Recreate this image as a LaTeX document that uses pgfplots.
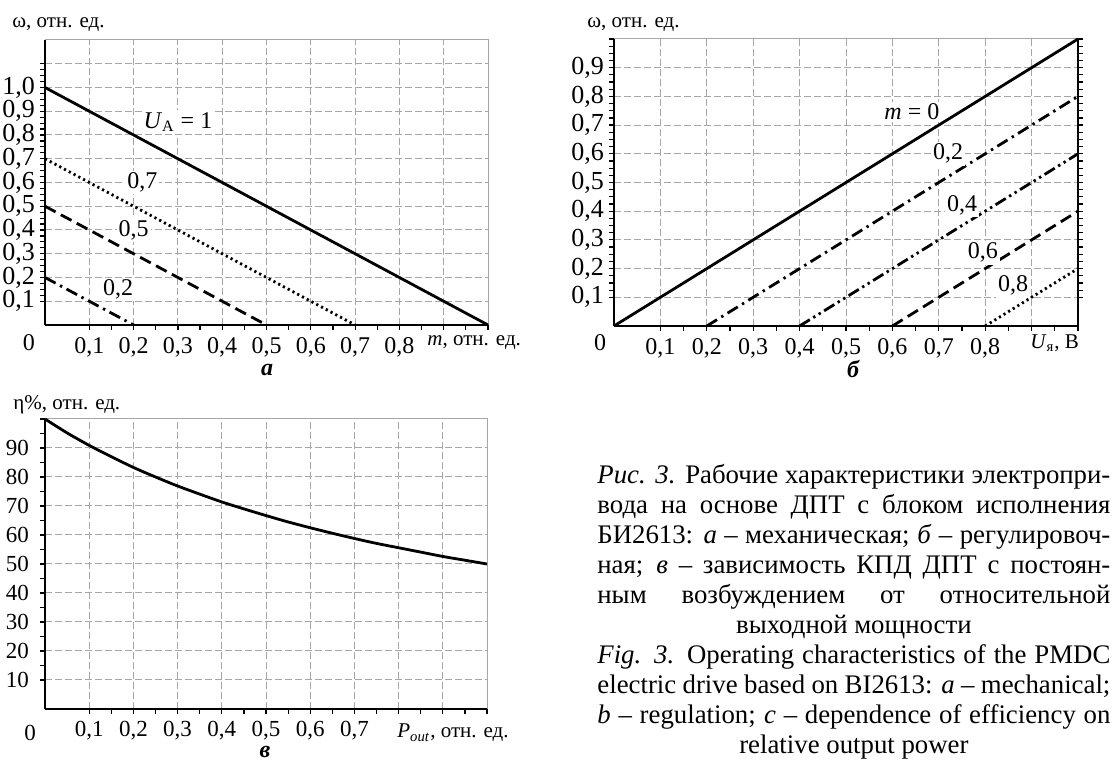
\documentclass[border=0pt]{standalone}
\usepackage{fontspec}
\setmainfont{Liberation Serif}
\usepackage{pgfplots}
\pgfplotsset{compat=1.18}

\definecolor{gridgray}{HTML}{A6A6A6}

% 1 px of the reference = 0.5pt
\newcommand{\pxy}[2]{({#1*0.5pt},{(764-#2)*0.5pt})}

\tikzset{
  curvelabel/.style={font=\fontsize{12}{14}\selectfont, fill=white, inner sep=1pt},
  solidc/.style={black, line width=1.4pt},
  dotc/.style={black, line width=1.4pt, dash pattern=on 1.1pt off 1.6pt},
  dashc/.style={black, line width=1.4pt, dash pattern=on 6pt off 3pt},
  dashdotc/.style={black, line width=1.4pt, dash pattern=on 6pt off 2.5pt on 1.2pt off 2.5pt},
  dashdotdotc/.style={black, line width=1.4pt, dash pattern=on 6pt off 2pt on 1.2pt off 2pt on 1.2pt off 2pt},
}

\pgfplotsset{
  opchar/.style={
    scale only axis,
    xmin=0, xmax=1, ymin=0,
    axis x line*=bottom, axis y line*=left,
    axis line style={line width=1pt, -},
    tick style={black, line width=0.6pt},
    tick align=outside,
    major tick length=2.5pt, minor tick length=2.5pt,
    minor x tick num=1,
    grid=major,
    major grid style={gridgray, line width=0.5pt, dash pattern=on 3.5pt off 1.5pt},
    xticklabel style={font=\fontsize{12}{14}\selectfont},
    yticklabel style={font=\fontsize{13}{14}\selectfont, xshift=1pt},
    /pgf/number format/assume math mode=true,
    xtick={0.1,0.2,0.3,0.4,0.5,0.6,0.7,0.8,0.9,1},
    clip=false,
  },
}

\begin{document}
\begin{tikzpicture}
\path[use as bounding box] (0,0) rectangle (559pt,382pt);

% ---- a: mechanical characteristic ----
\begin{axis}[opchar,
    at={(22.5pt,219.5pt)}, anchor=south west,
    width=221.5pt, height=142.5pt,
    ymax=1.2,
    xticklabels={{0,1},{0,2},{0,3},{0,4},{0,5},{0,6},{0,7},{0,8},{},{}},
    ytick={0.1,0.2,0.3,0.4,0.5,0.6,0.7,0.8,0.9,1.0,1.1},
    yticklabels={{0,1},{0,2},{0,3},{0,4},{0,5},{0,6},{0,7},{0,8},{0,9},{1,0},{}},
    minor y tick num=3,
]
\draw[gridgray, line width=0.5pt] (rel axis cs:0,1) -- (rel axis cs:1,1) -- (rel axis cs:1,0);
\addplot[solidc] coordinates {(0,1.0) (1.0,0)};
\addplot[dotc] coordinates {(0,0.7) (0.7,0)};
\addplot[dashc] coordinates {(0,0.5) (0.5,0)};
\addplot[dashdotc] coordinates {(0,0.2) (0.2,0)};
\node[curvelabel] at (axis cs:0.30,0.855) {\textit{U}\textsubscript{А} = 1};
\node[curvelabel] at (axis cs:0.22,0.60) {0,7};
\node[curvelabel] at (axis cs:0.20,0.40) {0,5};
\node[curvelabel] at (axis cs:0.165,0.15) {0,2};
\end{axis}

% ---- b: regulation characteristic ----
\begin{axis}[opchar,
    at={(307pt,219pt)}, anchor=south west,
    width=232pt, height=143.5pt,
    ymax=1.0,
    axis y line*=box, ytick pos=both, yticklabel pos=left,
    xticklabels={{0,1},{0,2},{0,3},{0,4},{0,5},{0,6},{0,7},{0,8},{},{}},
    ytick={0.1,0.2,0.3,0.4,0.5,0.6,0.7,0.8,0.9,1.0},
    yticklabels={{0,1},{0,2},{0,3},{0,4},{0,5},{0,6},{0,7},{0,8},{0,9},{}},
    minor y tick num=3,
]
\draw[gridgray, line width=0.5pt] (rel axis cs:0,1) -- (rel axis cs:1,1);
\addplot[solidc] coordinates {(0,0) (1.0,1.0)};
\addplot[dashdotc] coordinates {(0.2,0) (1.0,0.8)};
\addplot[dashdotdotc] coordinates {(0.4,0) (1.0,0.6)};
\addplot[dashc] coordinates {(0.6,0) (1.0,0.4)};
\addplot[dotc] coordinates {(0.8,0) (1.0,0.2)};
\node[curvelabel] at (axis cs:0.642,0.746) {\textit{m} = 0};
\node[curvelabel] at (axis cs:0.72,0.60) {0,2};
\node[curvelabel] at (axis cs:0.75,0.42) {0,4};
\node[curvelabel] at (axis cs:0.795,0.255) {0,6};
\node[curvelabel] at (axis cs:0.86,0.14) {0,8};
\end{axis}

% ---- c: efficiency vs output power ----
\begin{axis}[opchar,
    at={(22.5pt,27.5pt)}, anchor=south west,
    width=221pt, height=145pt,
    ymax=100,
    xticklabel style={font=\fontsize{11.5}{14}\selectfont},
    yticklabel style={font=\fontsize{11.5}{14}\selectfont, xshift=-3pt},
    xticklabels={{0,1},{0,2},{0,3},{0,4},{0,5},{0,6},{0,7},{},{},{}},
    ytick={10,20,30,40,50,60,70,80,90,100},
    yticklabels={10,20,30,40,50,60,70,80,90,{}},
    minor y tick num=1,
]
\draw[gridgray, line width=0.5pt] (rel axis cs:0,1) -- (rel axis cs:1,1) -- (rel axis cs:1,0);
\addplot[solidc, smooth] coordinates {
  (0,100) (0.05,95.2) (0.1,90.9) (0.15,87.0) (0.2,83.3) (0.25,80.0) (0.3,76.9)
  (0.35,74.1) (0.4,71.4) (0.45,69.0) (0.5,66.7) (0.55,64.5) (0.6,62.5) (0.65,60.6)
  (0.7,58.8) (0.75,57.1) (0.8,55.6) (0.85,54.1) (0.9,52.6) (0.95,51.3) (1.0,50.0)
};
\end{axis}

% ---- axis titles and panel letters ----
\begin{scope}[every node/.style={font=\fontsize{10.5}{12}\selectfont, inner sep=0pt}]
\node[anchor=west] at \pxy{12}{25} {ω, отн. ед.};
\node[anchor=west] at \pxy{587}{25} {ω, отн. ед.};
\node[anchor=west] at \pxy{13}{405} {η\%, отн. ед.};
\node[anchor=west] at \pxy{427}{343} {\textit{m}, отн. ед.};
\node[anchor=west] at \pxy{1030}{343} {\textit{U}\textsubscript{я}, В};
\node[anchor=west] at \pxy{397}{733} {\textit{P}\textsubscript{\textit{out}}, отн. ед.};
\node[font=\fontsize{12}{14}\selectfont] at \pxy{29}{343} {0};
\node[font=\fontsize{12}{14}\selectfont] at \pxy{600}{343} {0};
\node[font=\fontsize{11.5}{14}\selectfont] at \pxy{30}{733} {0};
\node[font=\fontsize{12}{14}\selectfont\bfseries\itshape] at \pxy{267}{370} {а};
\node[font=\fontsize{12}{14}\selectfont\bfseries\itshape] at \pxy{853}{369} {б};
\node[font=\fontsize{12}{14}\selectfont\bfseries\itshape] at \pxy{265}{752} {в};
\end{scope}

% ---- caption ----
\node[anchor=north west, inner sep=0pt, align=center, font=\fontsize{13.4}{15}\selectfont]
  at \pxy{597}{462} {%
  \strut\makebox[256.5pt][s]{\textit{Рис. 3.} Рабочие характеристики электропри-}\\
  \makebox[256.5pt][s]{вода на основе ДПТ с блоком исполнения}\\
  \makebox[256.5pt][s]{БИ2613: \textit{а} – механическая; \textit{б} – регулировоч-}\\
  \makebox[256.5pt][s]{ная; \textit{в} – зависимость КПД ДПТ с постоян-}\\
  \makebox[256.5pt][s]{ным возбуждением от относительной}\\
  выходной мощности\\
  \makebox[256.5pt][s]{\textit{Fig. 3.} Operating characteristics of the PMDC}\\
  \makebox[256.5pt][s]{electric drive based on BI2613: \textit{a} – mechanical;}\\
  \makebox[256.5pt][s]{\textit{b} – regulation; \textit{c} – dependence of efficiency on}\\
  relative output power};
\end{tikzpicture}
\end{document}
